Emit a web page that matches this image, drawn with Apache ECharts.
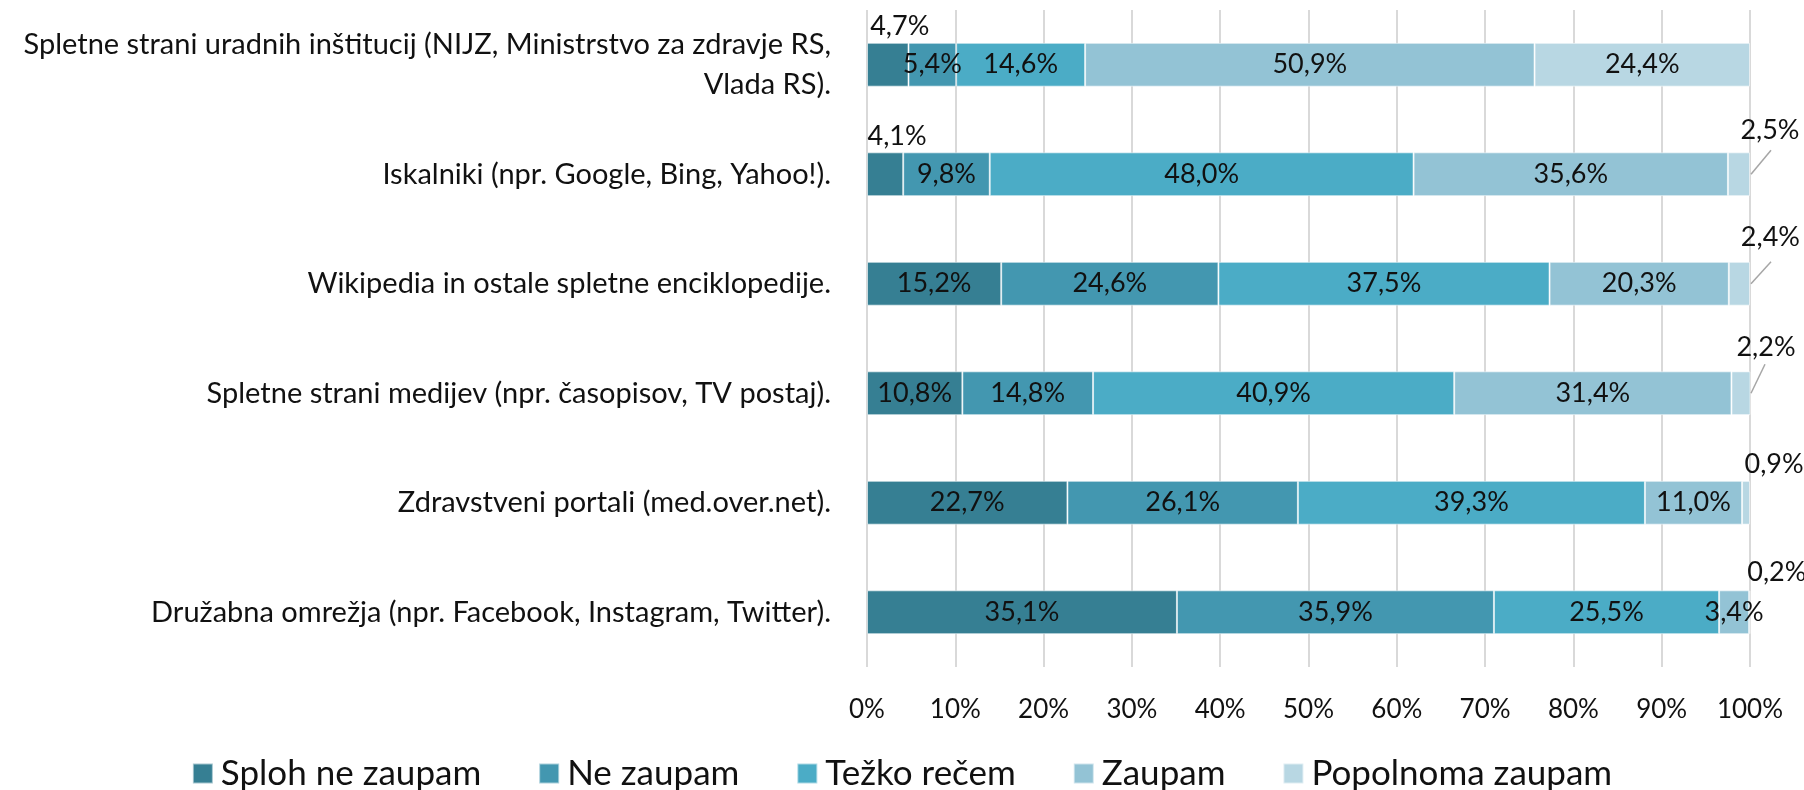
<!DOCTYPE html>
<html>
<head>
<meta charset="utf-8">
<script src="https://cdn.jsdelivr.net/npm/echarts@6/dist/echarts.min.js"></script>
<style>
  html, body { margin: 0; padding: 0; background: #fff; }
  #chart { width: 1804px; height: 790px; }
</style>
</head>
<body>
<div id="chart"></div>
<script>
  // vrstice (od zgoraj navzdol)
  const categories = [
    'Spletne strani uradnih inštitucij (NIJZ, Ministrstvo za zdravje RS,\nVlada RS).',
    'Iskalniki (npr. Google, Bing, Yahoo!).',
    'Wikipedia in ostale spletne enciklopedije.',
    'Spletne strani medijev (npr. časopisov, TV postaj).',
    'Zdravstveni portali (med.over.net).',
    'Družabna omrežja (npr. Facebook, Instagram, Twitter).'
  ];
  const seriesNames = ['Sploh ne zaupam', 'Ne zaupam', 'Težko rečem', 'Zaupam', 'Popolnoma zaupam'];
  const splohNeZaupam = [4.7, 4.1, 15.2, 10.8, 22.7, 35.1];
  const neZaupam = [5.4, 9.8, 24.6, 14.8, 26.1, 35.9];
  const tezkoRecem = [14.6, 48.0, 37.5, 40.9, 39.3, 25.5];
  const zaupam = [50.9, 35.6, 20.3, 31.4, 11.0, 3.4];
  const popolnomaZaupam = [24.4, 2.5, 2.4, 2.2, 0.9, 0.2];
  const xTicks = [0, 10, 20, 30, 40, 50, 60, 70, 80, 90, 100];

  const colors = ['#367F93', '#4397B0', '#4BACC6', '#93C3D5', '#B8D7E3'];
  const font = 'Lato, "Open Sans", sans-serif';

  const fmt = v => v.toFixed(1).replace('.', ',') + '%';

  const baseLabel = {
    show: true,
    position: 'inside',
    fontFamily: font,
    fontSize: 27,
    color: '#111',
    formatter: p => fmt(p.value)
  };

  // oznake, ki jih Excel postavi izven stolpca
  function firstSeriesData(vals) {
    return vals.map((v, i) => {
      if (i < 2) {
        return { value: v, label: { position: 'top', distance: 3, offset: [12, 0] } };
      }
      return v;
    });
  }
  const outsideOffsets = [null, [31, -6], [31, -8], [25, -8], [28, 0], [27, -2]];
  function lastSeriesData(vals) {
    return vals.map((v, i) => {
      if (i === 0) return v;
      return {
        value: v,
        label: { position: 'top', distance: 3, offset: outsideOffsets[i] }
      };
    });
  }

  const allData = [
    firstSeriesData(splohNeZaupam),
    neZaupam,
    tezkoRecem,
    zaupam,
    lastSeriesData(popolnomaZaupam)
  ];

  // konec stolpca za vodilne črte (vrstice 2-4)
  const rowTotals = categories.map((c, i) =>
    splohNeZaupam[i] + neZaupam[i] + tezkoRecem[i] + zaupam[i] + popolnomaZaupam[i]);
  const leaderRows = [1, 2, 3];
  const leaderEnds = { 1: [21, -24], 2: [21, -22], 3: [15, -29] };

  const barSeries = seriesNames.map((name, k) => ({
    name: name,
    type: 'bar',
    stack: 'total',
    barWidth: '40%',
    itemStyle: { borderColor: 'rgba(255,255,255,0.55)', borderWidth: 1 },
    label: baseLabel,
    data: allData[k]
  }));

  const leaderSeries = {
    type: 'custom',
    silent: true,
    z: 5,
    data: leaderRows.map(i => [Math.min(rowTotals[i], 100), i]),
    renderItem: (params, api) => {
      const p = api.coord([api.value(0), api.value(1)]);
      const d = leaderEnds[api.value(1)];
      return {
        type: 'line',
        shape: { x1: p[0] + 1, y1: p[1], x2: p[0] + d[0], y2: p[1] + d[1] },
        style: { stroke: '#A6A6A6', lineWidth: 1.5 }
      };
    }
  };

  const chart = echarts.init(document.getElementById('chart'));
  chart.setOption({
    animation: false,
    color: colors,
    textStyle: { fontFamily: font },
    grid: { left: 867, right: 54, top: 10, bottom: 123 },
    legend: {
      bottom: -6,
      left: 'center',
      itemWidth: 20,
      itemHeight: 20,
      itemGap: 57,
      icon: 'rect',
      textStyle: { fontFamily: font, fontSize: 35, color: '#111', padding: [0, 0, 0, 3] },
      data: seriesNames
    },
    xAxis: {
      type: 'value',
      min: xTicks[0],
      max: xTicks[xTicks.length - 1],
      interval: 10,
      axisLine: { show: false },
      axisTick: { show: false },
      splitLine: { lineStyle: { color: '#D9D9D9', width: 2 } },
      axisLabel: {
        fontFamily: font,
        fontSize: 26,
        color: '#111',
        margin: 30,
        formatter: '{value}%'
      }
    },
    yAxis: {
      type: 'category',
      inverse: true,
      data: categories,
      axisLine: { show: false },
      axisTick: { show: false },
      axisLabel: {
        fontFamily: font,
        fontSize: 29,
        color: '#111',
        margin: 36,
        lineHeight: 40,
        align: 'right'
      }
    },
    series: barSeries.concat([leaderSeries])
  });
</script>
</body>
</html>
